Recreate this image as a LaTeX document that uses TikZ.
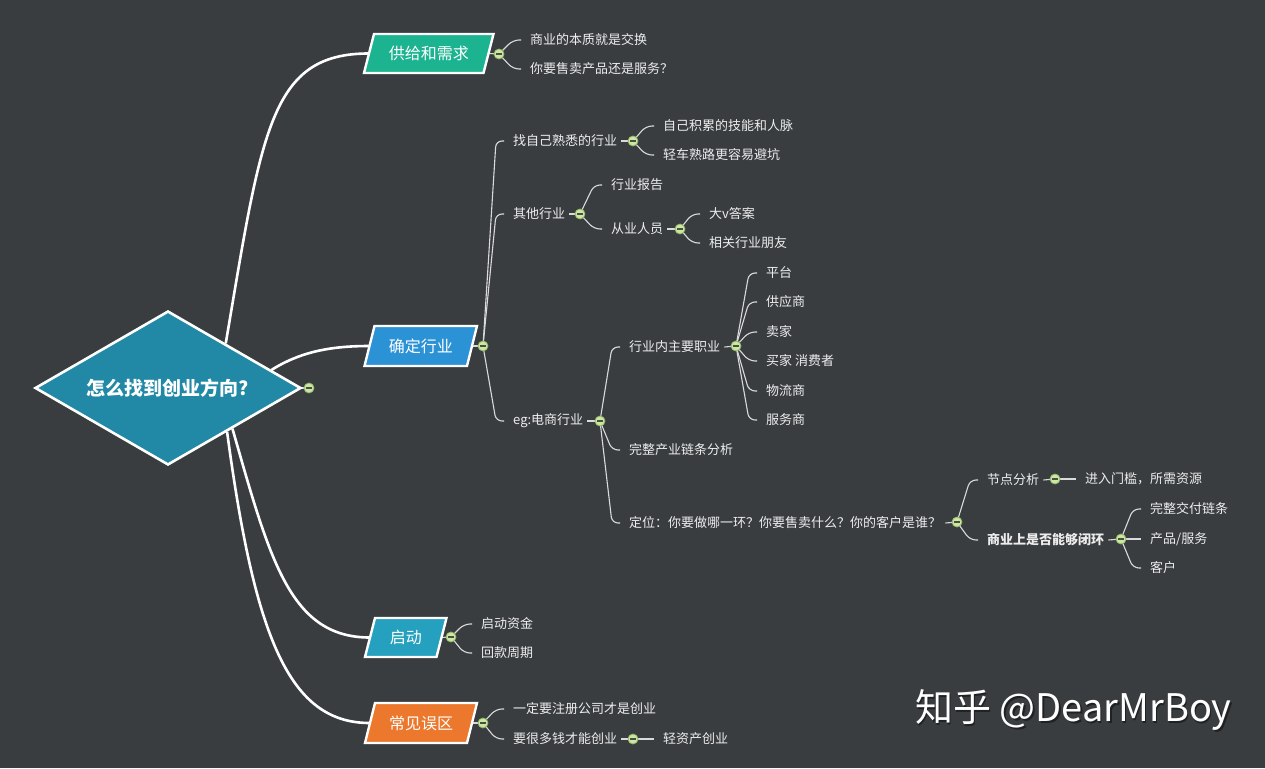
\documentclass[tikz,border=0pt]{standalone}
\usepackage{fontspec}
\setmainfont{Noto Sans CJK SC}
\usetikzlibrary{calc,shapes.geometric}
\definecolor{bgc}{HTML}{3A3D40}
\definecolor{rootc}{HTML}{2189A6}
\definecolor{c1c}{HTML}{1BB390}
\definecolor{c2c}{HTML}{2C92D6}
\definecolor{c3c}{HTML}{25A0BE}
\definecolor{c4c}{HTML}{EC782D}
\definecolor{leafc}{HTML}{EDEDED}
\definecolor{linec}{HTML}{DADADA}
\definecolor{collf}{HTML}{CDE6A6}
\definecolor{collb}{HTML}{8FB865}
\definecolor{collm}{HTML}{4A5040}
\pgfdeclarelayer{bg}
\pgfsetlayers{bg,main}
\tikzset{
 leaf/.style={anchor=west, inner sep=0pt, text=leafc, font=\fontsize{13}{15}\selectfont},
 conn/.style={draw=linec, line width=1.1pt, rounded corners=6pt},
 trunk/.style={draw=white, line width=2.6pt},
 coll/.style={circle, draw=collb, fill=collf, line width=0.8pt, minimum size=10pt, inner sep=0pt,
   path picture={\draw[collm, line width=1.4pt] ([xshift=-3pt]path picture bounding box.center) -- ([xshift=3pt]path picture bounding box.center);}},
 btext/.style={inner sep=0pt, text=white, font=\fontsize{16}{18}\selectfont},
 bshape/.style={draw=white, line width=2.4pt, line join=miter},
}
\newcommand\mmbranch[7]{%
 \filldraw[bshape, fill=#6] ({#2-#4/2+5},{#3-#5/2}) -- ({#2+#4/2+5},{#3-#5/2}) -- ({#2+#4/2-5},{#3+#5/2}) -- ({#2-#4/2-5},{#3+#5/2}) -- cycle;
 \node[btext, minimum width=#4, minimum height=#5] (#1) at (#2,#3) {#7};}
\newcommand\mmlink[2]{\draw[conn] (#1.center) -- ([xshift=-17pt]#2.west) -- ([xshift=-9pt]#2.west);}
\newcommand\mmstub[2]{\draw[conn] ([xshift=4pt]#1.east) -- (#2.center);}
\begin{document}
\begin{tikzpicture}[x=1pt,y=-1pt]
\begin{pgfonlayer}{bg}
\fill[bgc] (0,0) rectangle (1265,768);
\end{pgfonlayer}
\useasboundingbox (0,0) rectangle (1265,768);

% root
\node[diamond, aspect=1.73, minimum width=266, minimum height=154, inner sep=0pt, fill=rootc, draw=white, line width=2.6pt,
  text=white, font=\bfseries\fontsize{19}{21}\selectfont] (root) at (168,388) {怎么找到创业方向?};
\node[coll] (c0) at (309,388) {};

% branches
\mmbranch{b1}{428.75}{53.5}{119.5}{39}{c1c}{供给和需求}
\mmbranch{b2}{420.75}{346}{102.5}{40}{c2c}{确定行业}
\mmbranch{b3}{405.75}{637.5}{71.5}{39}{c3c}{启动}
\mmbranch{b4}{421}{723}{102}{40}{c4c}{常见误区}
\node[coll] (c1) at (499,54) {};
\node[coll] (c2) at (483,346) {};
\node[coll] (c3) at (451,637) {};
\node[coll] (c4) at (483,723) {};

% branch 1
\node[leaf] (s1) at (530,40) {商业的本质就是交换};
\node[leaf] (s2) at (530,69) {你要售卖产品还是服务？};

% branch 2
\node[leaf] (d1) at (513,141) {找自己熟悉的行业};
\node[coll] (cd1) at (633,141) {};
\node[leaf] (d11) at (663,126) {自己积累的技能和人脉};
\node[leaf] (d12) at (663,155) {轻车熟路更容易避坑};
\node[leaf] (d2) at (513,214) {其他行业};
\node[coll] (cd2) at (580,214) {};
\node[leaf] (d21) at (611,185) {行业报告};
\node[leaf] (d22) at (611,229) {从业人员};
\node[coll] (cd22) at (680,229) {};
\node[leaf] (d221) at (709,214) {大v答案};
\node[leaf] (d222) at (709,243) {相关行业朋友};
\node[leaf] (d3) at (513,421) {eg:电商行业};
\node[coll] (cd3) at (600,421) {};
\node[leaf] (d31) at (629,347) {行业内主要职业};
\node[coll] (cd31) at (736,346) {};
\node[leaf] (e1) at (766,273) {平台};
\node[leaf] (e2) at (766,302) {供应商};
\node[leaf] (e3) at (766,332) {卖家};
\node[leaf] (e4) at (766,361) {买家 消费者};
\node[leaf] (e5) at (766,391) {物流商};
\node[leaf] (e6) at (766,420) {服务商};
\node[leaf] (d32) at (629,450) {完整产业链条分析};
\node[leaf] (d33) at (629,523) {定位：你要做哪一环？你要售卖什么？你的客户是谁？};
\node[coll] (cd33) at (957,522) {};
\node[leaf] (f1) at (987,480) {节点分析};
\node[coll] (cf1) at (1055,479) {};
\node[leaf] (f11) at (1085,479) {进入门槛，所需资源};
\node[leaf, font=\bfseries\fontsize{13}{15}\selectfont] (f2) at (987,540) {商业上是否能够闭环};
\node[coll] (cf2) at (1121,539) {};
\node[leaf] (f21) at (1150,509) {完整交付链条};
\node[leaf] (f22) at (1150,539) {产品/服务};
\node[leaf] (f23) at (1150,568) {客户};

% branch 3
\node[leaf] (g1) at (481,624) {启动资金};
\node[leaf] (g2) at (481,653) {回款周期};

% branch 4
\node[leaf] (h1) at (513,709) {一定要注册公司才是创业};
\node[leaf] (h2) at (513,739) {要很多钱才能创业};
\node[coll] (ch2) at (633,739) {};
\node[leaf] (h21) at (663,739) {轻资产创业};

% watermark
\node[anchor=west, inner sep=0pt, text=black, opacity=0.45, font=\fontsize{38}{42}\selectfont] (wms) at (916.5,711.5) {知乎 @DearMrBoy};
\node[anchor=west, inner sep=0pt, text=white, font=\fontsize{38}{42}\selectfont] (wm) at (915,710) {知乎 @DearMrBoy};

\begin{pgfonlayer}{bg}
% trunks
\draw[trunk] ($(root.north)!0.43!(root.east)$) .. controls (262,130) and (270,53.5) .. (b1.west);
\draw[trunk] ($(root.north)!0.77!(root.east)$) .. controls (300,352) and (330,346) .. (b2.west);
\draw[trunk] ($(root.east)!0.52!(root.south)$) .. controls (270,560) and (290,637.5) .. (b3.west);
\draw[trunk] ($(root.east)!0.56!(root.south)$) .. controls (255,640) and (290,723) .. (b4.west);
\draw[conn] (root.east) -- (c0.center);
% stubs from branches
\draw[conn] (b1.east) -- (c1.center);
\draw[conn] (b2.east) -- (c2.center);
\draw[conn] (b3.east) -- (c3.center);
\draw[conn] (b4.east) -- (c4.center);
\mmstub{d1}{cd1}
\mmstub{d2}{cd2}
\mmstub{d22}{cd22}
\mmstub{d3}{cd3}
\mmstub{d31}{cd31}
\mmstub{d33}{cd33}
\mmstub{f1}{cf1}
\mmstub{f2}{cf2}
\mmstub{h2}{ch2}
% links
\mmlink{c1}{s1}
\mmlink{c1}{s2}
\mmlink{c2}{d1}
\mmlink{c2}{d2}
\mmlink{c2}{d3}
\mmlink{cd1}{d11}
\mmlink{cd1}{d12}
\mmlink{cd2}{d21}
\mmlink{cd2}{d22}
\mmlink{cd22}{d221}
\mmlink{cd22}{d222}
\mmlink{cd3}{d31}
\mmlink{cd3}{d32}
\mmlink{cd3}{d33}
\mmlink{cd31}{e1}
\mmlink{cd31}{e2}
\mmlink{cd31}{e3}
\mmlink{cd31}{e4}
\mmlink{cd31}{e5}
\mmlink{cd31}{e6}
\mmlink{cd33}{f1}
\mmlink{cd33}{f2}
\mmlink{cf1}{f11}
\mmlink{cf2}{f21}
\mmlink{cf2}{f22}
\mmlink{cf2}{f23}
\mmlink{c3}{g1}
\mmlink{c3}{g2}
\mmlink{c4}{h1}
\mmlink{c4}{h2}
\mmlink{ch2}{h21}
\end{pgfonlayer}
\end{tikzpicture}
\end{document}
